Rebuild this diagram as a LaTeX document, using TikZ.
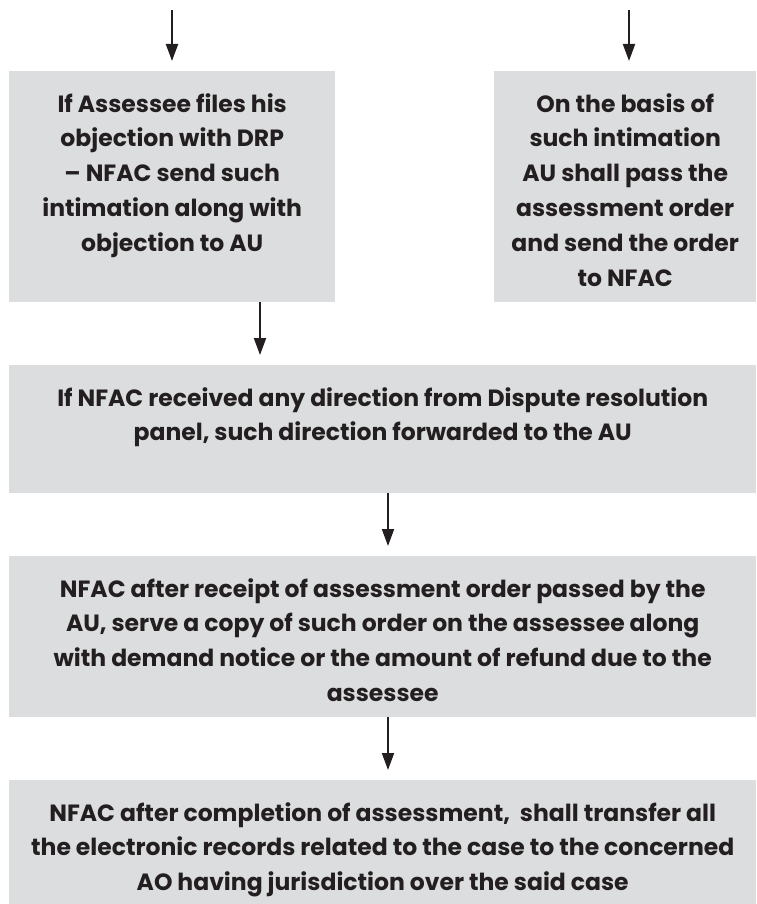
\documentclass[tikz,border=0pt]{standalone}
\usepackage{fontspec}
\setmainfont{Poppins}
\usetikzlibrary{arrows.meta}
\definecolor{boxgray}{HTML}{DCDDDE}
\definecolor{ink}{HTML}{231F20}
\begin{document}
\begin{tikzpicture}[x=1pt,y=-1pt,
  box/.style={fill=boxgray,draw=none,inner sep=0pt,anchor=north west},
  txt/.style={text=ink,align=center,inner sep=0pt,anchor=north,
    font=\fontsize{23.5}{34.8}\selectfont\bfseries},
  arr/.style={draw=ink,line width=2pt,-{Triangle[width=12pt,length=17pt]},shorten >=10pt}]
\useasboundingbox (0,0) rectangle (756,904);
% boxes
\node[box,minimum width=326pt,minimum height=231pt] (b1) at (9,71) {};
\node[box,minimum width=262pt,minimum height=231pt] (b2) at (494,71) {};
\node[box,minimum width=747pt,minimum height=128pt] (b3) at (9,365) {};
\node[box,minimum width=747pt,minimum height=161pt] (b4) at (9,556) {};
\node[box,minimum width=747pt,minimum height=130pt] (b5) at (9,780) {};
% texts
\node[txt] (t1) at ([yshift=-22pt]b1.north) {If Assessee files his\\objection with DRP\\-- NFAC send such\\intimation along with\\objection to AU};
\node[txt] (t2) at ([yshift=-22pt]b2.north) {On the basis of\\such intimation\\AU shall pass the\\assessment order\\and send the order\\to NFAC};
\node[txt] (t3) at ([yshift=-22pt]b3.north) {If NFAC received any direction from Dispute resolution\\panel, such direction forwarded to the AU};
\node[txt] (t4) at ([yshift=-22pt]b4.north) {NFAC after receipt of assessment order passed by the\\AU, serve a copy of such order on the assessee along\\with demand notice or the amount of refund due to the\\assessee};
\node[txt] (t5) at ([yshift=-22pt]b5.north) {NFAC after completion of assessment,\ \ shall transfer all\\the electronic records related to the case to the concerned\\AO having jurisdiction over the said case};
% arrow anchors
\coordinate (s1) at (172,10);
\coordinate (s2) at (629,10);
\coordinate (c1) at (260,0);
\coordinate (c2) at (388,0);
\draw[arr] (s1) -- (s1 |- b1.north);
\draw[arr] (s2) -- (s2 |- b2.north);
\draw[arr] (b1.south -| c1) -- (b3.north -| c1);
\draw[arr] (b3.south -| c2) -- (b4.north -| c2);
\draw[arr] (b4.south -| c2) -- (b5.north -| c2);
\end{tikzpicture}
\end{document}
